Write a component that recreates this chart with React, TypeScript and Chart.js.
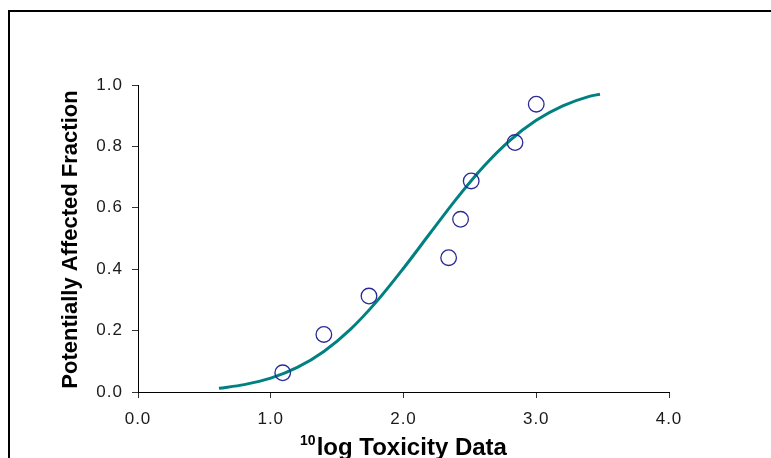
import React, { useEffect, useRef } from 'react';
import { Chart, registerables } from 'chart.js';

Chart.register(...registerables);

// Observed toxicity data (10log) and plotting positions
const observedX = [1.09, 1.40, 1.74, 2.34, 2.43, 2.51, 2.84, 3.00];
const observedY = [0.0625, 0.1875, 0.3125, 0.4375, 0.5625, 0.6875, 0.8125, 0.9375];

// Fitted curve
const curveX = [0.61, 0.8, 1.0, 1.2, 1.4, 1.6, 1.8, 2.0, 2.2, 2.4, 2.6, 2.8, 3.0, 3.2, 3.4, 3.48];
const curveY = [0.012, 0.024, 0.045, 0.080, 0.132, 0.204, 0.296, 0.403, 0.517, 0.630, 0.733, 0.819, 0.885, 0.932, 0.963, 0.970];

// Tick labels
const xTicks = [0, 1, 2, 3, 4];
const yTicks = [0, 0.2, 0.4, 0.6, 0.8, 1.0];

// Titles
const xTitleSup = '10';
const xTitleMain = 'log Toxicity Data';
const yTitle = 'Potentially Affected Fraction';

const FONT = '"Liberation Sans", Arial, Helvetica, sans-serif';

const spacingPlugin = {
  id: 'tickSpacing',
  beforeDraw(chart: any) {
    (chart.ctx as any).letterSpacing = '1px';
  },
};

const titlePlugin = {
  id: 'customTitles',
  afterDraw(chart: any) {
    const { ctx, chartArea } = chart;
    ctx.save();
    (ctx as any).letterSpacing = '0px';
    ctx.fillStyle = '#000';
    ctx.textBaseline = 'alphabetic';
    ctx.textAlign = 'left';
    const supFont = `bold 14px ${FONT}`;
    const mainFont = `bold 24px ${FONT}`;
    ctx.font = supFont;
    const w1 = ctx.measureText(xTitleSup).width;
    ctx.font = mainFont;
    const w2 = ctx.measureText(xTitleMain).width;
    const cx = (chartArea.left + chartArea.right) / 2;
    const x0 = cx - (w1 + w2 + 1) / 2;
    ctx.font = supFont;
    ctx.fillText(xTitleSup, x0, 445);
    ctx.font = mainFont;
    ctx.fillText(xTitleMain, x0 + w1 + 1, 455);

    ctx.translate(77, (chartArea.top + chartArea.bottom) / 2 + 1);
    ctx.rotate(-Math.PI / 2);
    ctx.font = `bold 22px ${FONT}`;
    ctx.textAlign = 'center';
    ctx.fillText(yTitle, 0, 0);
    ctx.restore();
  },
};

export default function App() {
  const canvasRef = useRef<HTMLCanvasElement | null>(null);

  useEffect(() => {
    const canvas = canvasRef.current;
    if (!canvas) return;
    const chart = new Chart(canvas, {
      type: 'scatter',
      data: {
        datasets: [
          {
            label: 'Observed',
            data: observedX.map((x, i) => ({ x, y: observedY[i] })),
            showLine: false,
            pointRadius: 7.8,
            pointHoverRadius: 7.8,
            pointBorderWidth: 1.3,
            borderColor: '#2a2a96',
            pointBorderColor: '#2a2a96',
            backgroundColor: 'rgba(0,0,0,0)',
            pointBackgroundColor: 'rgba(0,0,0,0)',
            order: 0,
          },
          {
            label: 'Fit',
            data: curveX.map((x, i) => ({ x, y: curveY[i] })),
            showLine: true,
            pointRadius: 0,
            borderColor: '#008080',
            borderWidth: 3,
            cubicInterpolationMode: 'monotone',
            fill: false,
            order: 1,
          },
        ],
      },
      options: {
        responsive: false,
        animation: false,
        devicePixelRatio: 1,
        layout: { padding: { top: 85, right: 102, left: 0, bottom: 0 } },
        plugins: {
          legend: { display: false },
          tooltip: { enabled: false },
          title: { display: false },
        },
        scales: {
          x: {
            type: 'linear',
            min: 0,
            max: 4,
            afterBuildTicks: (s: any) => {
              s.ticks = xTicks.map((v) => ({ value: v }));
            },
            afterFit: (s: any) => {
              s.height = 66;
            },
            ticks: {
              callback: (v: any) => Number(v).toFixed(1),
              font: { family: FONT, size: 17 },
              color: '#1a1a1a',
              padding: 11,
              maxRotation: 0,
            },
            grid: {
              display: true,
              drawOnChartArea: false,
              drawTicks: true,
              tickLength: 6,
              color: '#333',
            },
            border: { display: true, color: '#000', width: 1 },
            title: { display: false },
          },
          y: {
            type: 'linear',
            min: 0,
            max: 1,
            afterBuildTicks: (s: any) => {
              s.ticks = yTicks.map((v) => ({ value: v }));
            },
            afterFit: (s: any) => {
              s.width = 138;
            },
            ticks: {
              callback: (v: any) => Number(v).toFixed(1),
              font: { family: FONT, size: 17 },
              color: '#1a1a1a',
              padding: 9,
            },
            grid: {
              display: true,
              drawOnChartArea: false,
              drawTicks: true,
              tickLength: 6,
              color: '#333',
            },
            border: { display: true, color: '#000', width: 1 },
            title: { display: false },
          },
        },
      },
      plugins: [spacingPlugin, titlePlugin],
    });
    return () => chart.destroy();
  }, []);

  return (
    <div
      style={{
        position: 'fixed',
        left: 0,
        top: 0,
        width: 771,
        height: 458,
        overflow: 'hidden',
        background: '#fff',
      }}
    >
      <div
        style={{
          position: 'absolute',
          left: 8,
          top: 10,
          width: 900,
          height: 600,
          border: '2px solid #000',
          boxSizing: 'border-box',
        }}
      />
      <canvas
        ref={canvasRef}
        width={771}
        height={458}
        style={{ position: 'absolute', left: 0, top: 0 }}
      />
    </div>
  );
}
